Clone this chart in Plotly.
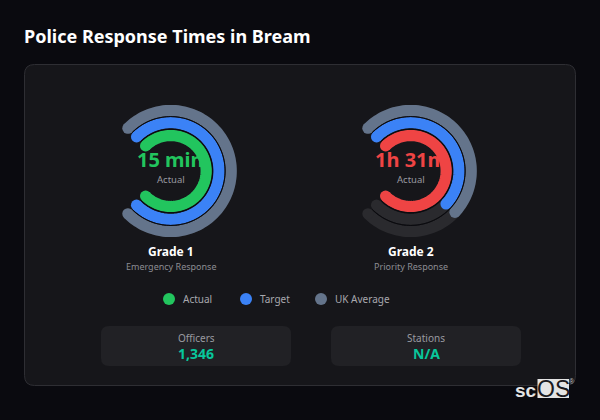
import numpy as np
import plotly.graph_objects as go

W, H = 600, 420

grades = ["Grade 1", "Grade 2"]
subtitles = ["Emergency Response", "Priority Response"]
actual_labels = ["15 min", "1h 31m"]
actual_minutes = [15, 91]
target_minutes = [15, 60]
uk_avg_minutes = [15, 60]
scale_max = [15, 91]
actual_colors = ["#22c55e", "#ef4444"]
legend_labels = ["Actual", "Target", "UK Average"]
stat_labels = ["Officers", "Stations"]
stat_values = ["1,346", "N/A"]

GREY, BLUE, TRACK = "#64748b", "#3b82f6", "#2a2a2e"
GAP = "#0a0a0e"
CENTERS = [(170.7, 171), (410.7, 171)]
BOX_R = 70
RING_W = 11.2
R_OUT, R_MID, R_IN = 60.5, 48.3, 35.5


def fx(x):
    return x / W


def fy(y):
    return 1 - y / H


def arc(frac, r, color, polar, width=RING_W, caps=True):
    n = max(2, int(frac * 120) + 1)
    theta = np.linspace(-45, -45 + 270 * frac, n)
    cap = width if caps else 0
    sizes = [cap] + [0] * (n - 2) + [cap]
    return go.Scatterpolar(
        r=[r] * n, theta=theta, subplot=polar, mode="lines+markers",
        line=dict(color=color, width=width),
        marker=dict(color=color, size=sizes, opacity=1, line=dict(width=0)),
        hoverinfo="skip", showlegend=False,
    )


fig = go.Figure()
layout_polar = {}
for i, (cx, cy) in enumerate(CENTERS):
    polar = "polar" if i == 0 else f"polar{i + 1}"
    m = scale_max[i]
    for r, value, color in [
        (R_OUT, uk_avg_minutes[i], GREY),
        (R_MID, target_minutes[i], BLUE),
        (R_IN, actual_minutes[i], actual_colors[i]),
    ]:
        fig.add_trace(arc(1, r, TRACK, polar))
        fig.add_trace(arc(min(value / m, 1), r, color, polar))
    for r in [(R_OUT + R_MID) / 2, (R_MID + R_IN) / 2]:
        fig.add_trace(arc(1, r, GAP, polar, width=1.0, caps=False))
    layout_polar[polar] = dict(
        domain=dict(x=[fx(cx - BOX_R), fx(cx + BOX_R)], y=[fy(cy + BOX_R), fy(cy - BOX_R)]),
        bgcolor="rgba(0,0,0,0)",
        radialaxis=dict(visible=False, range=[0, BOX_R]),
        angularaxis=dict(visible=False, rotation=90, direction="clockwise"),
    )


def text(x, y, s, size, color, bold=False, anchor="center", family="Noto Sans", **kw):
    return dict(
        x=fx(x), y=fy(y), xref="paper", yref="paper", text=f"<b>{s}</b>" if bold else s,
        showarrow=False, xanchor=anchor, yanchor="middle",
        font=dict(family=family, size=size, color=color), **kw,
    )


def rrect(x0, y0, x1, y1, r, fill, line=None):
    X0, X1 = fx(x0), fx(x1)
    Y0, Y1 = fy(y0), fy(y1)
    rx, ry = r / W, r / H
    path = (
        f"M{X0 + rx},{Y0} L{X1 - rx},{Y0} Q{X1},{Y0} {X1},{Y0 - ry} "
        f"L{X1},{Y1 + ry} Q{X1},{Y1} {X1 - rx},{Y1} L{X0 + rx},{Y1} "
        f"Q{X0},{Y1} {X0},{Y1 + ry} L{X0},{Y0 - ry} Q{X0},{Y0} {X0 + rx},{Y0} Z"
    )
    return dict(
        type="path", path=path, xref="paper", yref="paper", fillcolor=fill, layer="below",
        line=dict(color=line or fill, width=1 if line else 0),
    )


shapes = [rrect(24.5, 64.5, 575.5, 385.5, 10, "#16161a", "#2e2e33")]
shapes += [rrect(101, 326, 291, 366, 8, "#212125"), rrect(331, 326, 521, 366, 8, "#212125")]
shapes.append(rrect(537.5, 379, 569, 398, 0, "#e4e4e4"))
for x, c in zip([169, 246, 321], ["#22c55e", BLUE, GREY]):
    shapes.append(dict(
        type="circle", xref="paper", yref="paper", x0=fx(x - 6), x1=fx(x + 6),
        y0=fy(299 + 6), y1=fy(299 - 6), fillcolor=c, line=dict(width=0),
    ))

ann = [text(22, 36, "Police Response Times in Bream", 18, "#ffffff", True, "left")]
for i, (cx, cy) in enumerate(CENTERS):
    ann.append(text(cx, 159, actual_labels[i], 20, actual_colors[i], True))
    ann.append(text(cx, 179, "Actual", 9.5, "#9a9aa0"))
    ann.append(text(cx, 251, grades[i], 12, "#ffffff", True))
    ann.append(text(cx, 266, subtitles[i], 9, "#8c8c92"))
for x, s in zip([181, 258, 333], legend_labels):
    ann.append(text(x, 299, s, 10, "#a8a8ae", anchor="left"))
for x, s, v in zip([196, 426], stat_labels, stat_values):
    ann.append(text(x, 337.5, s, 10, "#9a9aa0", height=11))
    ann.append(text(x, 353, v, 14, "#08c79c", True, height=15))
ann.append(text(539, 390.5, "<b>sc</b>", 19, "#e4e4e4", anchor="right", family="Liberation Sans"))
ann.append(text(553, 388.5, "OS", 23, "#1a1a1e", family="Liberation Sans"))
ann.append(text(572, 381, "®", 7, "#c0c0c0", family="Liberation Sans"))

fig.update_layout(
    width=W, height=H, autosize=False, margin=dict(l=0, r=0, t=0, b=0),
    paper_bgcolor="#0a0a0f", plot_bgcolor="#0a0a0f", showlegend=False,
    shapes=shapes, annotations=ann, **layout_polar,
)
fig.write_html(
    "out.html",
    config={"displayModeBar": False},
    post_script="document.body.style.margin='0';document.body.style.background='#0a0a0f';",
)
